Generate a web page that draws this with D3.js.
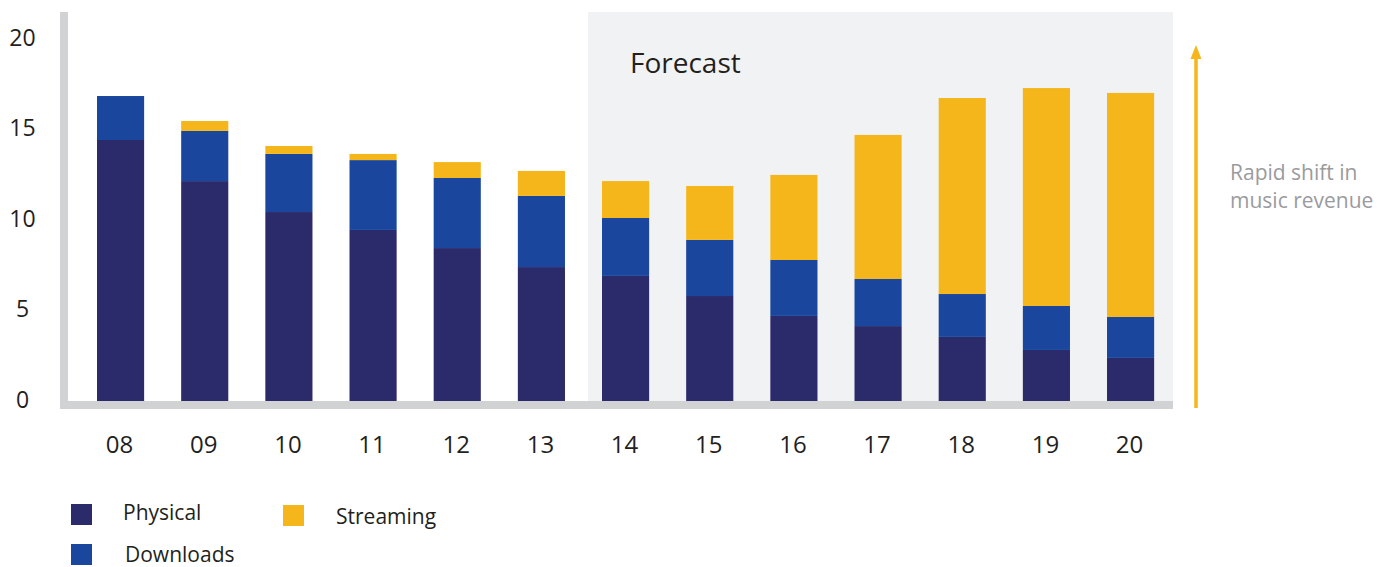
<!DOCTYPE html>
<html>
<head>
<meta charset="utf-8">
<script src="https://cdnjs.cloudflare.com/ajax/libs/d3/7.8.5/d3.min.js"></script>
<style>
  html, body { margin: 0; padding: 0; background: #fff; }
  svg { display: block; font-family: "Open Sans", sans-serif; }
</style>
</head>
<body>
<script>
// values (billions, roughly)
const years = ["08", "09", "10", "11", "12", "13", "14", "15", "16", "17", "18", "19", "20"];
const physical  = [14.42, 12.15, 10.44, 9.45, 8.45, 7.40, 6.91, 5.80, 4.70, 4.14, 3.54, 2.82, 2.38];
const downloads = [2.43, 2.77, 3.21, 3.86, 3.87, 3.93, 3.20, 3.10, 3.09, 2.60, 2.37, 2.43, 2.26];
const streaming = [0, 0.55, 0.44, 0.34, 0.88, 1.38, 2.04, 2.98, 4.70, 7.96, 10.83, 12.04, 12.38];
const yTicks = [0, 5, 10, 15, 20];
const forecastFrom = "14";

const seriesNames = ["Physical", "Downloads", "Streaming"];
const seriesColors = ["#2b2a6b", "#1a479d", "#f4b61b"];

const width = 1393;
const height = 567;

const rows = years.map((yr, i) => ({
  year: yr,
  Physical: physical[i],
  Downloads: downloads[i],
  Streaming: streaming[i],
}));

const stacked = d3.stack().keys(seriesNames)(rows);

const x = d3.scaleBand()
  .domain(years)
  .range([71.75, 1179.4])
  .paddingInner(0.44)
  .paddingOuter(0.3);

const y = d3.scaleLinear()
  .domain([0, 20])
  .range([401, 39]);

const color = d3.scaleOrdinal().domain(seriesNames).range(seriesColors);

const svg = d3.select("body").append("svg")
  .attr("width", width)
  .attr("height", height);

// forecast shading
const fx = x(forecastFrom) - 14;
svg.append("rect")
  .attr("x", fx)
  .attr("y", 12)
  .attr("width", 1173 - fx)
  .attr("height", 401 - 12)
  .attr("fill", "#f1f2f4");

svg.append("text")
  .attr("x", 630)
  .attr("y", 73)
  .attr("font-size", 28)
  .attr("fill", "#231f20")
  .text("Forecast");

// stacked bars
svg.append("g")
  .selectAll("g")
  .data(stacked)
  .join("g")
  .attr("fill", d => color(d.key))
  .selectAll("rect")
  .data(d => d)
  .join("rect")
  .attr("x", d => x(d.data.year))
  .attr("width", x.bandwidth())
  .attr("y", d => y(d[1]))
  .attr("height", d => y(d[0]) - y(d[1]));

// axis frame (thick grey lines)
svg.append("rect")
  .attr("x", 60).attr("y", 12)
  .attr("width", 8).attr("height", 397)
  .attr("fill", "#d1d2d4");
svg.append("rect")
  .attr("x", 60).attr("y", 401)
  .attr("width", 1173 - 60).attr("height", 8)
  .attr("fill", "#d1d2d4");

// y axis labels
const yAxis = svg.append("g")
  .attr("transform", "translate(22.5,0)")
  .call(d3.axisLeft(y).tickValues(yTicks).tickSize(0).tickPadding(0));
yAxis.select(".domain").remove();
yAxis.selectAll("text")
  .attr("x", 0)
  .attr("dy", 6)
  .attr("text-anchor", "middle")
  .attr("font-family", "Open Sans")
  .attr("font-size", 23)
  .attr("fill", "#231f20");

// x axis labels
const xAxis = svg.append("g")
  .attr("transform", "translate(-1,453)")
  .call(d3.axisBottom(x).tickSize(0).tickPadding(0));
xAxis.select(".domain").remove();
xAxis.selectAll("text")
  .attr("y", 0)
  .attr("dy", 0)
  .attr("font-family", "Open Sans")
  .attr("font-size", 24)
  .attr("fill", "#231f20");

// arrow
svg.append("line")
  .attr("x1", 1196).attr("x2", 1196)
  .attr("y1", 408).attr("y2", 56)
  .attr("stroke", "#f4b61b")
  .attr("stroke-width", 3.5);
svg.append("path")
  .attr("d", "M1196,45 L1201.5,59 L1190.5,59 Z")
  .attr("fill", "#f4b61b");

const note = svg.append("text")
  .attr("font-size", 21)
  .attr("fill", "#9a9b9e");
note.append("tspan").attr("x", 1230).attr("y", 180).text("Rapid shift in");
note.append("tspan").attr("x", 1230).attr("y", 208).text("music revenue");

// legend
const legendPos = [
  { sx: 71, sy: 504, tx: 123, ty: 520 },
  { sx: 71, sy: 544, tx: 125, ty: 562 },
  { sx: 283, sy: 505, tx: 336, ty: 524 },
];
const legend = svg.append("g")
  .selectAll("g")
  .data(seriesNames)
  .join("g");
legend.append("rect")
  .attr("x", (d, i) => legendPos[i].sx)
  .attr("y", (d, i) => legendPos[i].sy)
  .attr("width", 21)
  .attr("height", 21)
  .attr("fill", d => color(d));
legend.append("text")
  .attr("x", (d, i) => legendPos[i].tx)
  .attr("y", (d, i) => legendPos[i].ty)
  .attr("font-size", 21)
  .attr("fill", "#231f20")
  .text(d => d);
</script>
</body>
</html>
